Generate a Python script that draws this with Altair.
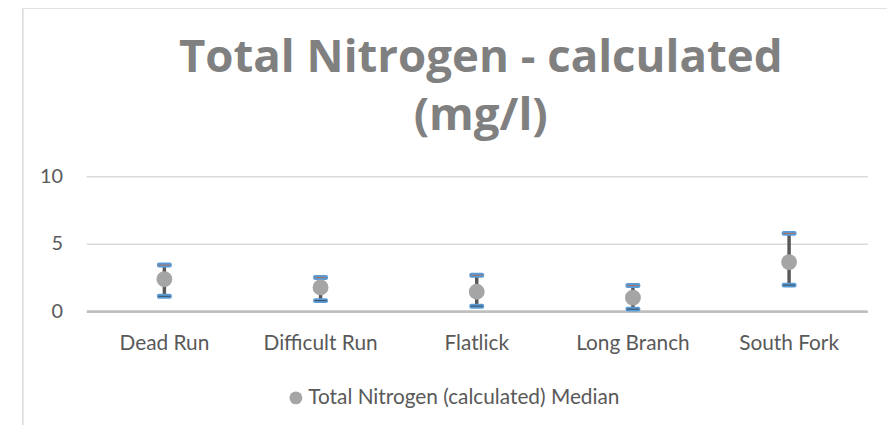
import altair as alt
import pandas as pd

sites = ["Dead Run", "Difficult Run", "Flatlick", "Long Branch", "South Fork"]
median = [2.37, 1.76, 1.44, 1.00, 3.64]
low = [1.10, 0.78, 0.37, 0.15, 1.93]
high = [3.42, 2.49, 2.66, 1.90, 5.77]
series_name = "Total Nitrogen (calculated) Median"
title_lines = ["Total Nitrogen - calculated", "(mg/l)"]

df = pd.DataFrame({"site": sites, "median": median, "low": low, "high": high,
                   "series": [series_name] * len(sites)})

W, H = 788, 136
FONT = "Lato"
LABEL = "#595959"

xenc = alt.X("site:N", sort=sites,
             scale=alt.Scale(type="band", paddingInner=0, paddingOuter=0),
             axis=alt.Axis(title=None, labelAngle=0, labelFont=FONT, labelFontSize=21,
                           labelColor=LABEL, labelPadding=22, ticks=False,
                           domainColor="#BFBFBF", domainWidth=3, grid=False))
yscale = alt.Scale(domain=[0, 10], nice=False, zero=True)
yaxis = alt.Axis(title=None, values=[0, 5, 10], labelFont=FONT, labelFontSize=20,
                 labelColor=LABEL, labelPadding=24, ticks=False, domain=False,
                 grid=True, gridColor="#D9D9D9", gridWidth=1.5)

base = alt.Chart(df)

stems = base.mark_rule(color="#595959", strokeWidth=3.5).encode(
    x=xenc, y=alt.Y("low:Q", scale=yscale, axis=yaxis), y2="high:Q")
cap_hi = base.mark_tick(color="#5B9BD5", thickness=5, size=15, cornerRadius=2, opacity=1).encode(
    x=xenc, y=alt.Y("high:Q", scale=yscale))
cap_lo = base.mark_tick(color="#5B9BD5", thickness=5, size=15, cornerRadius=2, opacity=1).encode(
    x=xenc, y=alt.Y("low:Q", scale=yscale))
cap_hi_in = base.mark_tick(color="#A9705E", thickness=1, size=12, opacity=1).encode(
    x=xenc, y=alt.Y("high:Q", scale=yscale))
cap_lo_in = base.mark_tick(color="#3A4A5A", thickness=1, size=12, opacity=1).encode(
    x=xenc, y=alt.Y("low:Q", scale=yscale))
points = base.mark_circle(size=256, opacity=1).encode(
    x=xenc, y=alt.Y("median:Q", scale=yscale),
    color=alt.Color("series:N", scale=alt.Scale(range=["#A5A5A5"]),
                    legend=alt.Legend(orient="none", legendX=201, legendY=213, title=None,
                                      symbolType="circle", symbolSize=169,
                                      labelFont=FONT, labelFontSize=21, labelColor=LABEL,
                                      labelOffset=2, labelLimit=0, padding=0,
                                      symbolStrokeWidth=0)))

one = alt.Chart(pd.DataFrame({"a": [0]}))
border_left = one.mark_rule(color="#D9D9D9", strokeWidth=1.5).encode(
    x=alt.value(-64), y=alt.value(-170), y2=alt.value(260))
border_top = one.mark_rule(color="#D9D9D9", strokeWidth=1.5).encode(
    x=alt.value(-64), x2=alt.value(820), y=alt.value(-170))

title_style = dict(font="Open Sans", fontSize=46, fontWeight="bold", color="#808080",
                   align="center", baseline="alphabetic")
title1 = one.mark_text(text=title_lines[0], **title_style).encode(
    x=alt.value(W / 2 + 4), y=alt.value(71 - 176))
title2 = one.mark_text(text=title_lines[1], **title_style).encode(
    x=alt.value(W / 2 + 4), y=alt.value(129 - 176))

chart = alt.layer(border_left, border_top, title1, title2, stems, cap_hi, cap_lo,
                  cap_hi_in, cap_lo_in, points).properties(
    width=W, height=H,
    autosize=alt.AutoSizeParams(type="none"),
    padding={"left": 79, "top": 168, "right": 20, "bottom": 113},
    background="white",
).configure_view(stroke=None)

chart.save("out.html", embed_options={"renderer": "svg", "actions": False})
